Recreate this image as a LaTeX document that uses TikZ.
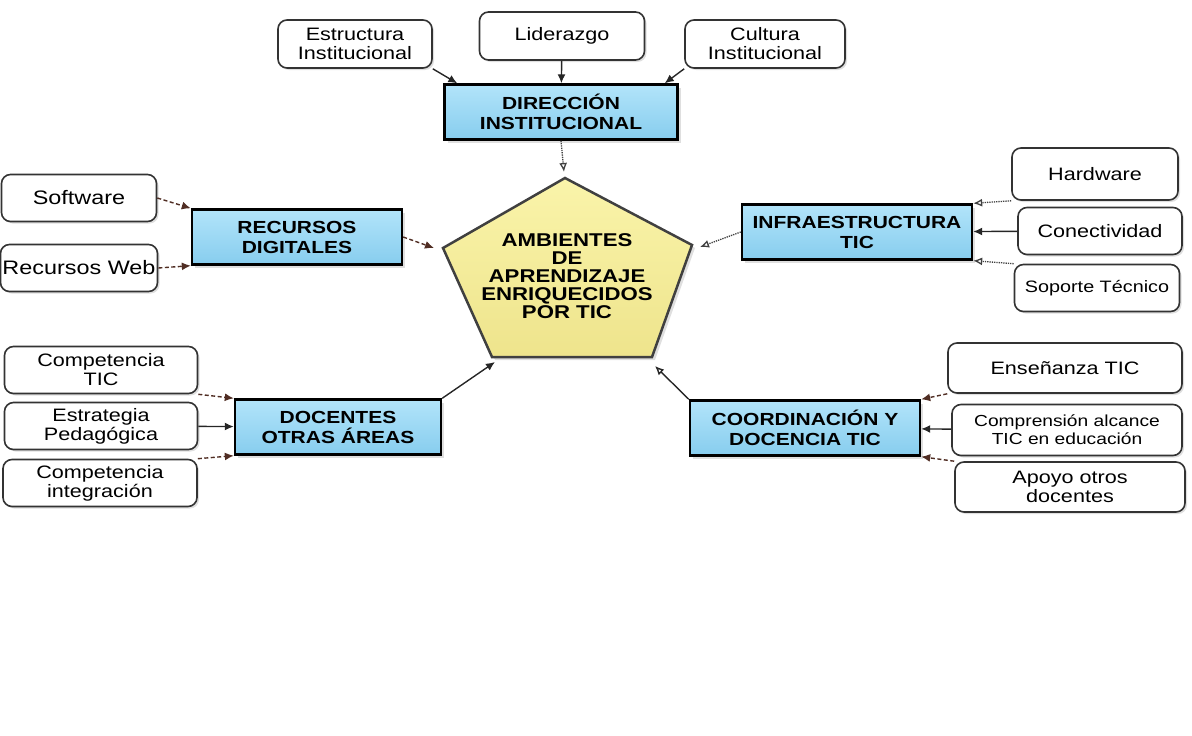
\documentclass[tikz,border=0pt]{standalone}
\usepackage{fontspec}
\setmainfont{Liberation Sans}[FakeStretch=1.2]
\usetikzlibrary{arrows.meta,shadows}

\definecolor{azulclaro}{RGB}{178,228,250}
\definecolor{azul}{RGB}{135,205,238}
\definecolor{amarillo}{RGB}{250,244,170}
\definecolor{amarilloosc}{RGB}{238,228,140}
\definecolor{raya}{RGB}{80,45,35}

\tikzset{
  hoja/.style={draw=black!80, line width=1.6pt, rounded corners=9pt, fill=white,
    align=center, inner sep=2pt, font=\fontsize{18}{19}\selectfont,
    drop shadow={opacity=0.25, shadow xshift=2pt, shadow yshift=-2pt}},
  eje/.style={draw=black, line width=2.4pt, top color=azulclaro, bottom color=azul,
    align=center, inner sep=2pt, minimum height=55pt,
    font=\bfseries\fontsize{17.5}{20}\selectfont,
    drop shadow={opacity=0.25, shadow xshift=3pt, shadow yshift=-3pt}},
  flecha/.style={-{Latex[length=9pt,width=8pt]}, line width=1.4pt, draw=black!85},
  rayas/.style={flecha, dash pattern=on 4pt off 2.5pt, draw=raya},
  abierta/.style={-{Latex[open,length=9pt,width=8pt]}, line width=1.3pt, densely dotted, draw=black!75},
  abiertasol/.style={-{Latex[open,length=9pt,width=8pt]}, line width=1.4pt, draw=black!85},
}

\begin{document}
\begin{tikzpicture}[x=1pt, y=-1pt]
  \useasboundingbox (0,0) rectangle (1192,736);

  % centro
  \coordinate (pt) at (565,178);
  \coordinate (pr) at (692,245);
  \coordinate (pbr) at (652,357);
  \coordinate (pbl) at (492,357);
  \coordinate (pl) at (443,248);
  \draw[line width=2.5pt, draw=black!75, top color=amarillo, bottom color=amarilloosc,
    drop shadow={opacity=0.25, shadow xshift=3pt, shadow yshift=-3pt}]
    (pt) -- (pr) -- (pbr) -- (pbl) -- (pl) -- cycle;
  \node[align=center, font=\bfseries\fontsize{18.5}{18}\selectfont] (amb) at (567,276)
    {AMBIENTES\\DE\\APRENDIZAJE\\ENRIQUECIDOS\\POR TIC};
  \coordinate (tipT) at (564,172);
  \coordinate (tipL) at (434,248);
  \coordinate (tipR) at (700,247);
  \coordinate (tipBL) at (495,362);
  \coordinate (tipBR) at (655,366);

  % ejes
  \node[eje, minimum width=233pt] (direc) at (561,112) {DIRECCIÓN\\INSTITUCIONAL};
  \node[eje, minimum width=210pt] (recur) at (297,237) {RECURSOS\\DIGITALES};
  \node[eje, minimum width=230pt] (infra) at (857,232) {INFRAESTRUCTURA\\TIC};
  \node[eje, minimum width=206pt] (docen) at (338,427) {DOCENTES\\OTRAS ÁREAS};
  \node[eje, minimum width=230pt] (coord) at (805,428) {COORDINACIÓN Y\\DOCENCIA TIC};

  % arriba
  \node[hoja, minimum width=154pt, minimum height=48pt] (estr) at (355,44) {Estructura\\Institucional};
  \node[hoja, minimum width=165pt, minimum height=48pt] (lider) at (562,36) {Liderazgo};
  \node[hoja, minimum width=160pt, minimum height=48pt] (cult) at (765,44) {Cultura\\Institucional};

  % izquierda
  \node[hoja, minimum width=155pt, minimum height=47pt, font=\fontsize{19.5}{20}\selectfont] (soft) at (79,198) {Software};
  \node[hoja, minimum width=155pt, minimum height=47pt, font=\fontsize{19.5}{20}\selectfont] (recweb) at (79,268) {Recursos Web};
  \node[hoja, minimum width=193pt, minimum height=47pt] (comptic) at (101,370) {Competencia\\TIC};
  \node[hoja, minimum width=193pt, minimum height=47pt] (estrat) at (101,426) {Estrategia\\Pedagógica};
  \node[hoja, minimum width=194pt, minimum height=47pt] (compint) at (100,483) {Competencia\\integración};

  % derecha
  \node[hoja, minimum width=166pt, minimum height=52pt] (hard) at (1095,174) {Hardware};
  \node[hoja, minimum width=164pt, minimum height=47pt] (conect) at (1100,231) {Conectividad};
  \node[hoja, minimum width=165pt, minimum height=47pt, font=\fontsize{16.5}{18}\selectfont] (soporte) at (1097,288) {Soporte Técnico};
  \node[hoja, minimum width=234pt, minimum height=50pt] (ensen) at (1065,368) {Enseñanza TIC};
  \node[hoja, minimum width=230pt, minimum height=51pt, font=\fontsize{16}{18}\selectfont] (compr) at (1067,430) {Comprensión alcance\\TIC en educación};
  \node[hoja, minimum width=230pt, minimum height=50pt] (apoyo) at (1070,487) {Apoyo otros\\docentes};

  % conectores
  \draw[flecha] (estr.south east) -- ([xshift=14pt]direc.north west);
  \draw[flecha] (lider) -- (direc);
  \draw[flecha] (cult.south west) -- ([xshift=-14pt]direc.north east);
  \draw[abierta] (direc.south) -- (tipT);

  \draw[rayas] (soft.east) -- (recur.north west);
  \draw[rayas] (recweb.east) -- (recur.south west);
  \draw[rayas] (recur.east) -- (tipL);

  \draw[abierta] (infra.west) -- (tipR);
  \draw[abierta] (hard.south west) -- (infra.north east);
  \draw[flecha] (conect) -- (infra);
  \draw[abierta] (soporte.north west) -- (infra.south east);

  \draw[rayas] (comptic.south east) -- (docen.north west);
  \draw[flecha] (estrat) -- (docen);
  \draw[rayas] (compint.north east) -- (docen.south west);
  \draw[flecha] (docen.north east) -- (tipBL);

  \draw[abiertasol] (coord.north west) -- (tipBR);
  \draw[rayas] (ensen.south west) -- (coord.north east);
  \draw[flecha] (compr) -- (coord);
  \draw[rayas] (apoyo.north west) -- (coord.south east);
\end{tikzpicture}
\end{document}
